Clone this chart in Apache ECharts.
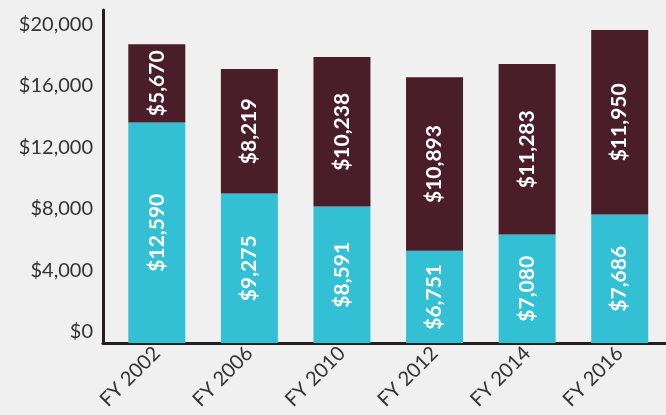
<!DOCTYPE html>
<html>
<head>
<meta charset="utf-8">
<title>FY chart</title>
<script src="https://cdn.jsdelivr.net/npm/echarts@6/dist/echarts.min.js"></script>
<style>
  *{margin:0;padding:0;}
  body{background:#f0f0f0;}
  #main{width:666px;height:415px;}
</style>
</head>
<body>
<div id="main"></div>
<script>
// categories
var years = ['FY 2002', 'FY 2006', 'FY 2010', 'FY 2012', 'FY 2014', 'FY 2016'];
// bar heights as drawn in the picture (axis units)
var lowerHeights = [14330, 9710, 8860, 5990, 7040, 8340];
var upperHeights = [5080, 8080, 9710, 11270, 11080, 11990];
// values printed on the bars
var lowerLabels = [12590, 9275, 8591, 6751, 7080, 7686];
var upperLabels = [5670, 8219, 10238, 10893, 11283, 11950];
// y axis
var yMax = 21630;
var yStep = 4000;

function money(v) {
    return '$' + Number(v).toLocaleString('en-US');
}

var textColor = '#333333';
var lineColor = '#231f20';

var chart = echarts.init(document.getElementById('main'));

var option = {
    backgroundColor: '#f0f0f0',
    animation: false,
    grid: [
        // axes lines + y labels
        {left: 103, right: 0, top: 10, bottom: 72, containLabel: false},
        // bars + x labels
        {left: 110.5, width: 567.6, top: 10, bottom: 72, containLabel: false}
    ],
    xAxis: [
        {
            type: 'category', gridIndex: 0, data: years,
            axisLine: {show: true, lineStyle: {color: lineColor, width: 3}},
            axisTick: {show: false},
            axisLabel: {show: false}
        },
        {
            type: 'category', gridIndex: 1, data: years,
            axisLine: {show: false},
            axisTick: {show: false},
            axisLabel: {
                rotate: 45, margin: 7, padding: [14, 0, 0, 0],
                color: textColor, fontFamily: 'Lato', fontSize: 20
            }
        }
    ],
    yAxis: [
        {
            type: 'value', gridIndex: 0, min: 0, max: yMax, interval: yStep,
            axisLine: {show: true, lineStyle: {color: lineColor, width: 3}},
            axisTick: {show: false},
            splitLine: {show: false},
            axisLabel: {
                showMaxLabel: false,
                margin: 10, color: textColor, fontFamily: 'Lato', fontSize: 20,
                verticalAlign: 'bottom', lineHeight: 22,
                formatter: function (v) { return v % yStep === 0 ? money(v) : ''; }
            }
        },
        {
            type: 'value', gridIndex: 1, min: 0, max: yMax, interval: yStep,
            axisLine: {show: false}, axisTick: {show: false},
            splitLine: {show: false}, axisLabel: {show: false}
        }
    ],
    series: [
        {
            type: 'bar', stack: 'total', xAxisIndex: 1, yAxisIndex: 1,
            barWidth: 57,
            data: lowerHeights,
            itemStyle: {color: '#33c0d4'},
            label: {
                show: true, position: 'inside', rotate: 90,
                align: 'center', verticalAlign: 'middle',
                color: '#ffffff', fontFamily: 'Lato', fontWeight: 'bold', fontSize: 21,
                formatter: function (p) { return money(lowerLabels[p.dataIndex]); }
            }
        },
        {
            type: 'bar', stack: 'total', xAxisIndex: 1, yAxisIndex: 1,
            barWidth: 57,
            data: upperHeights,
            itemStyle: {color: '#4a1e29'},
            label: {
                show: true, position: 'inside', rotate: 90,
                align: 'center', verticalAlign: 'middle',
                color: '#ffffff', fontFamily: 'Lato', fontWeight: 'bold', fontSize: 21,
                formatter: function (p) { return money(upperLabels[p.dataIndex]); }
            }
        }
    ]
};

chart.setOption(option);
</script>
</body>
</html>
